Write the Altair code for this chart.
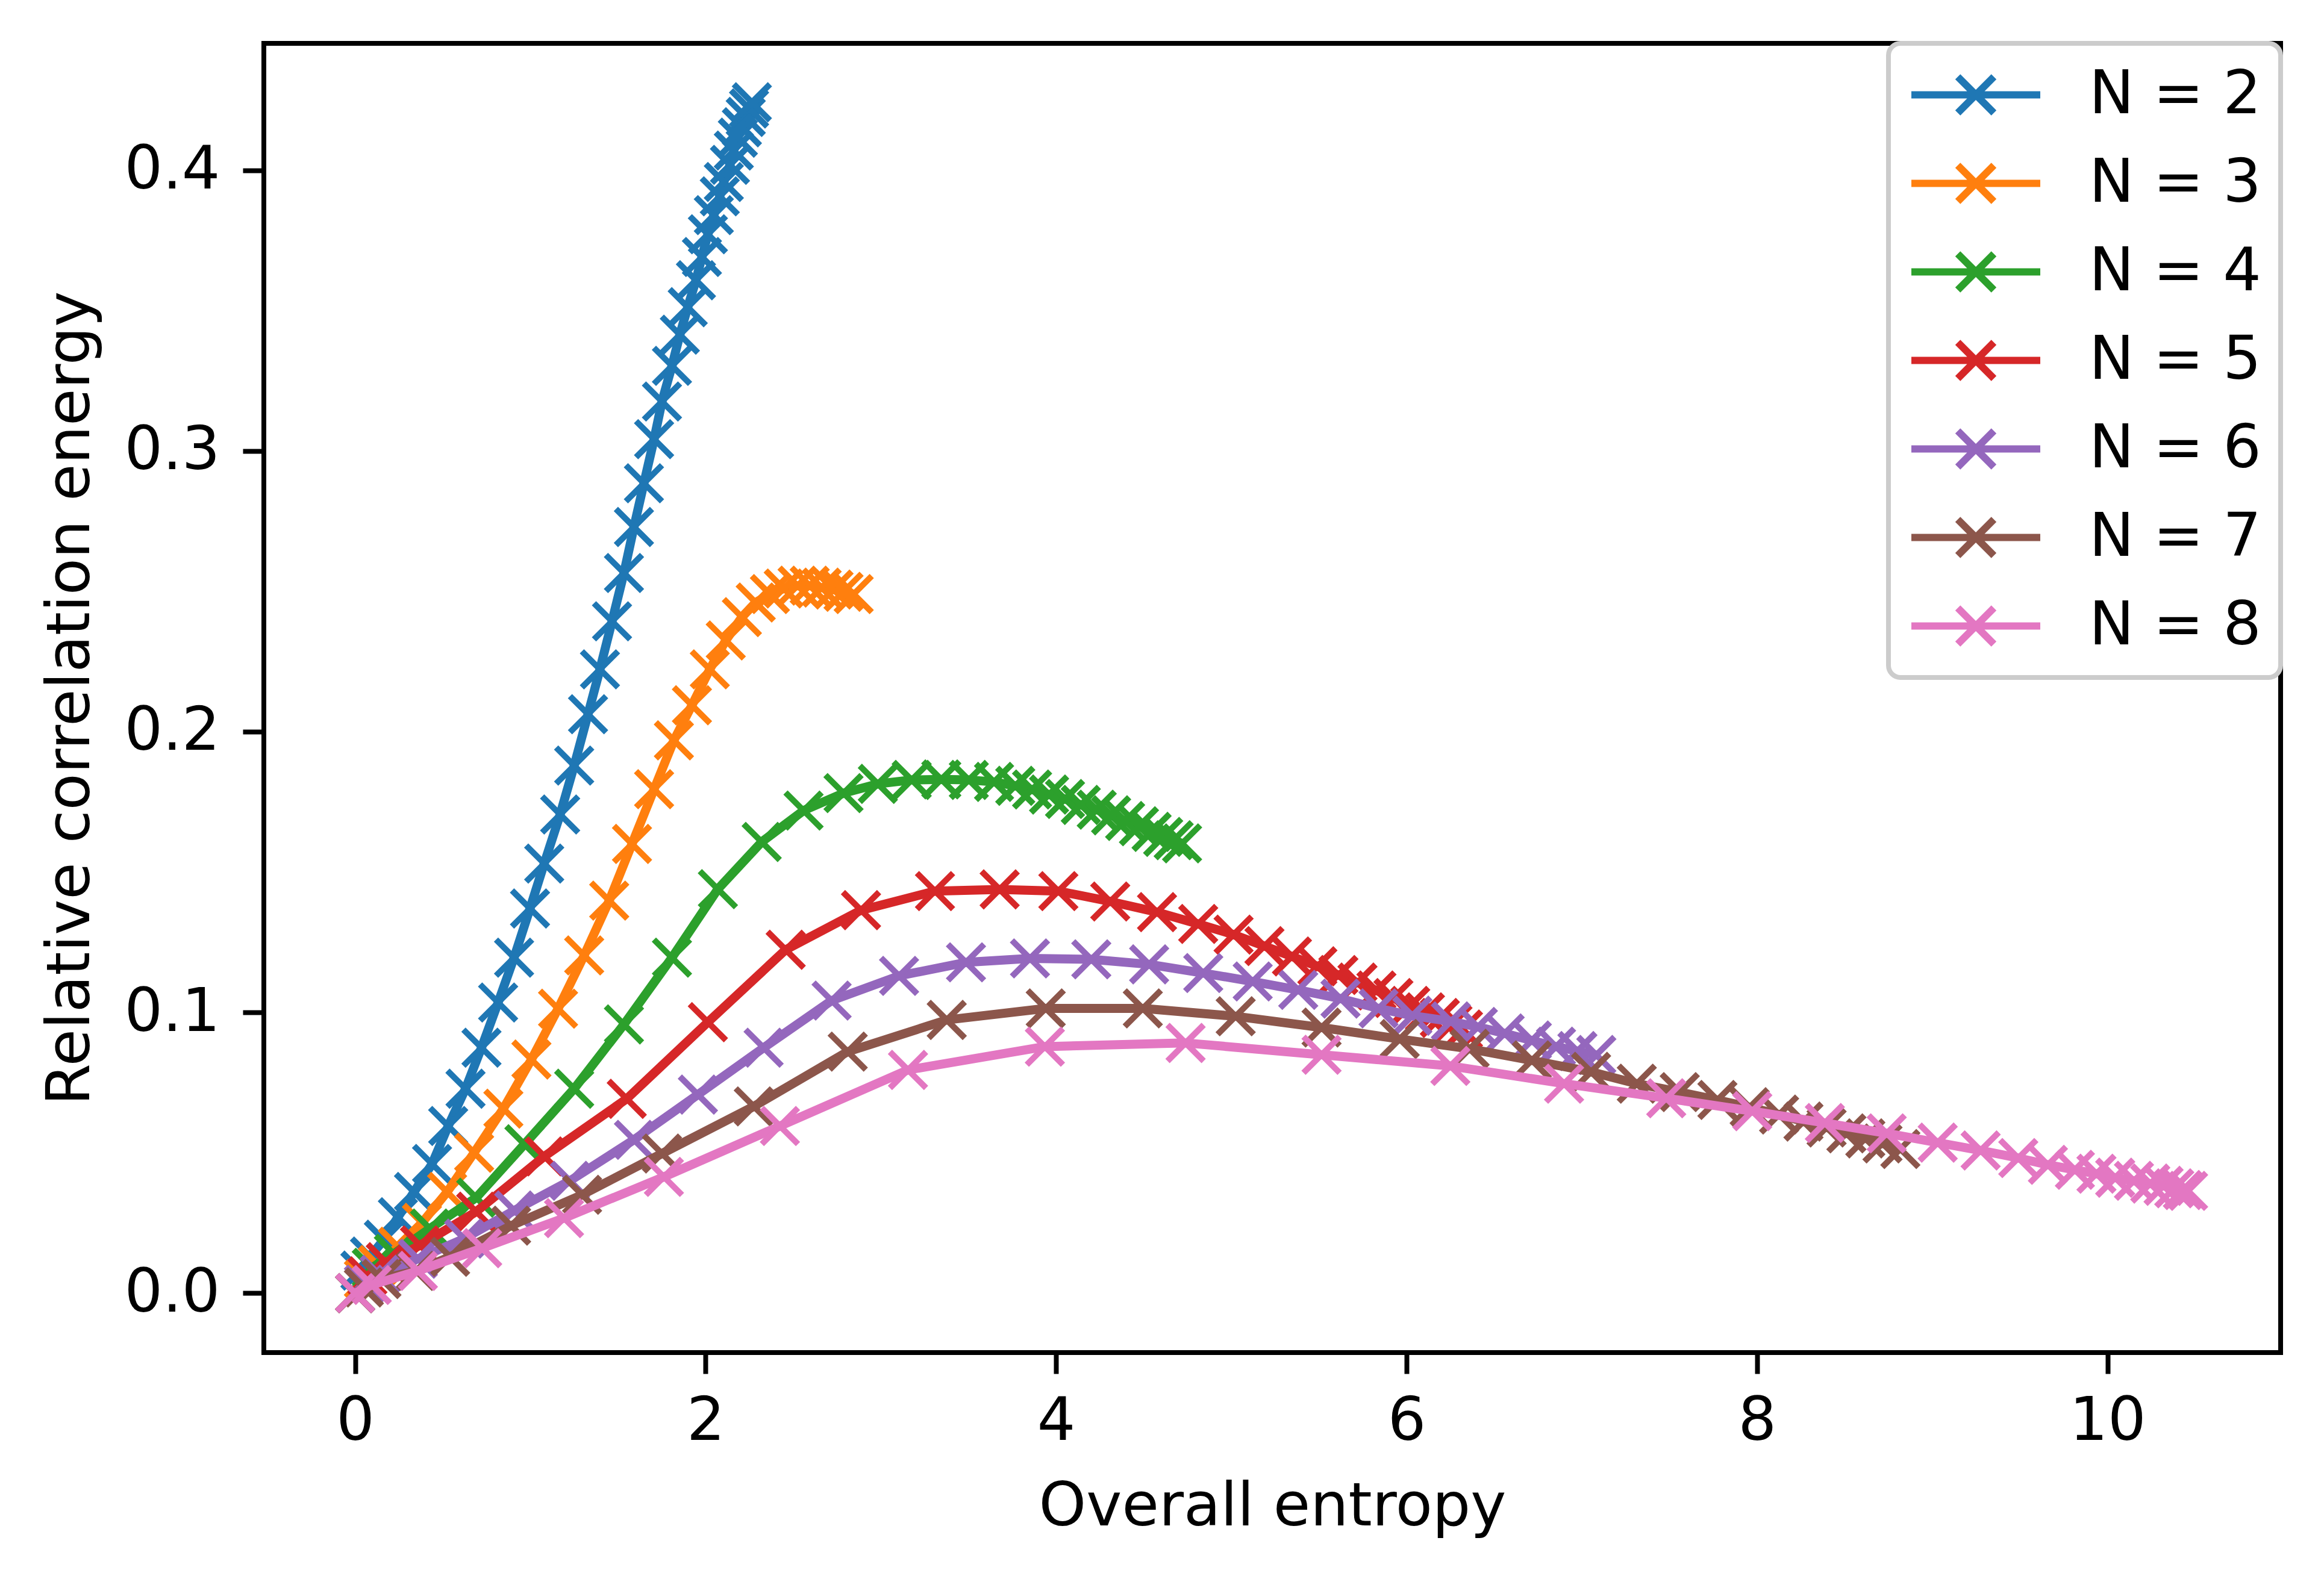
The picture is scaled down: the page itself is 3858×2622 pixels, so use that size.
import altair as alt
import pandas as pd

labels = ["N = 2", "N = 3", "N = 4", "N = 5", "N = 6", "N = 7", "N = 8"]
colors = ["#1f77b4", "#ff7f0e", "#2ca02c", "#d62728", "#9467bd", "#8c564b", "#e377c2"]

n2_x = [0.0, 0.03, 0.085, 0.164, 0.244, 0.336, 0.439, 0.531, 0.630, 0.721, 0.816, 0.907, 0.998, 1.079,
        1.170, 1.250, 1.329, 1.397, 1.466, 1.534, 1.591, 1.648, 1.706, 1.751, 1.808, 1.853, 1.898, 1.945,
        1.979, 2.013, 2.047, 2.081, 2.104, 2.139, 2.161, 2.184, 2.207, 2.229, 2.248, 2.264]
n2_y = [0.0, 0.008, 0.013, 0.019, 0.027, 0.036, 0.046, 0.0595, 0.0728, 0.0874, 0.1035, 0.1195, 0.1370, 0.1530,
        0.1705, 0.1879, 0.2062, 0.2222, 0.2393, 0.2565, 0.2729, 0.2885, 0.3042, 0.3176, 0.3303, 0.3414, 0.3512, 0.3608,
        0.3691, 0.3772, 0.3840, 0.3907, 0.3958, 0.4019, 0.4070, 0.4116, 0.4153, 0.4190, 0.4220, 0.4242]

n3_x = [0.0, 0.05, 0.13, 0.244, 0.381, 0.525, 0.679, 0.846, 1.006, 1.158, 1.307, 1.450, 1.580, 1.706,
        1.819, 1.922, 2.024, 2.115, 2.207, 2.286, 2.367, 2.446, 2.525, 2.594, 2.662, 2.730, 2.787, 2.845]
n3_y = [0.0, 0.005, 0.010, 0.0165, 0.025, 0.036, 0.050, 0.0657, 0.0832, 0.1013, 0.1203, 0.1398, 0.1600, 0.1795,
        0.1969, 0.2094, 0.2222, 0.2325, 0.2408, 0.2460, 0.2490, 0.2510, 0.2520, 0.2520, 0.2513, 0.2506, 0.2498, 0.2490]

n4_x = [0.0, 0.095, 0.221, 0.427, 0.691, 0.966, 1.250, 1.534, 1.808, 2.070, 2.320, 2.559, 2.787, 2.983,
        3.176, 3.345, 3.502, 3.646, 3.767, 3.863, 3.960, 4.051, 4.141, 4.232, 4.314, 4.394, 4.473, 4.545,
        4.611, 4.671, 4.719]
n4_y = [0.0, 0.009, 0.014, 0.023, 0.034, 0.053, 0.0728, 0.0957, 0.1195, 0.1439, 0.1607, 0.1719, 0.1781, 0.1814,
        0.1828, 0.1830, 0.1828, 0.1821, 0.1807, 0.1794, 0.1776, 0.1760, 0.1739, 0.1722, 0.1702, 0.1682, 0.1663, 0.1643,
        0.1625, 0.1613, 0.1602]

n5_x = [0.0, 0.07, 0.175, 0.37, 0.691, 1.080, 1.550, 2.013, 2.457, 2.887, 3.309, 3.678, 4.013, 4.309,
        4.576, 4.811, 5.013, 5.189, 5.346, 5.491, 5.611, 5.720, 5.828, 5.925, 6.021, 6.105, 6.190, 6.262, 6.322]
n5_y = [0.0, 0.006, 0.011, 0.017, 0.029, 0.0487, 0.0692, 0.0965, 0.1223, 0.1364, 0.1432, 0.1438, 0.1432, 0.1395,
        0.1357, 0.1315, 0.1277, 0.1236, 0.1199, 0.1164, 0.1133, 0.1106, 0.1078, 0.1051, 0.1023, 0.1000, 0.0980, 0.0959, 0.0939]

n6_x = [0.0, 0.05, 0.14, 0.358, 0.622, 0.908, 1.226, 1.591, 1.956, 2.331, 2.719, 3.104, 3.486, 3.851,
        4.201, 4.531, 4.840, 5.122, 5.382, 5.623, 5.840, 6.033, 6.253, 6.407, 6.560, 6.715, 6.853, 6.975, 7.083]
n6_y = [0.0, 0.003, 0.0065, 0.0122, 0.0194, 0.0294, 0.0400, 0.0546, 0.0707, 0.0874, 0.1042, 0.1130, 0.1178, 0.1192,
        0.1189, 0.1171, 0.1140, 0.1110, 0.1080, 0.1049, 0.1014, 0.0988, 0.0968, 0.0948, 0.0925, 0.0900, 0.0878, 0.0862, 0.0848]

n7_x = [0.0, 0.05, 0.15, 0.347, 0.542, 0.89, 1.295, 1.751, 2.275, 2.811, 3.376, 3.941, 4.495, 5.025,
        5.515, 5.961, 6.36, 6.715, 7.053, 7.314, 7.559, 7.774, 7.958, 8.126, 8.265, 8.397, 8.510, 8.618, 8.716, 8.818]
n7_y = [0.0, 0.002, 0.005, 0.0079, 0.0129, 0.024, 0.0350, 0.0497, 0.0665, 0.0860, 0.0973, 0.1014, 0.1014, 0.0986,
        0.0946, 0.0905, 0.0870, 0.0829, 0.0788, 0.0746, 0.0716, 0.0688, 0.0662, 0.0636, 0.0611, 0.0590, 0.0569, 0.0551, 0.0533, 0.0513]

n8_x = [0.0, 0.095, 0.358, 0.725, 1.192, 1.762, 2.424, 3.155, 3.936, 4.739, 5.515, 6.250, 6.899, 7.482,
        7.973, 8.387, 8.740, 9.031, 9.276, 9.491, 9.660, 9.814, 9.937, 10.044, 10.151, 10.244, 10.320, 10.381, 10.43, 10.46]
n8_y = [0.0, 0.0029, 0.0079, 0.016, 0.0267, 0.0414, 0.0595, 0.0795, 0.0878, 0.0891, 0.0849, 0.0809, 0.0746, 0.0694,
        0.0648, 0.0606, 0.0569, 0.0536, 0.0508, 0.0481, 0.0457, 0.0439, 0.0425, 0.0411, 0.0400, 0.0390, 0.0382, 0.0373, 0.0367, 0.0364]

x_ticks = [0, 2, 4, 6, 8, 10]
y_ticks = [0.0, 0.1, 0.2, 0.3, 0.4]

series = [(labels[0], n2_x, n2_y), (labels[1], n3_x, n3_y), (labels[2], n4_x, n4_y),
          (labels[3], n5_x, n5_y), (labels[4], n6_x, n6_y), (labels[5], n7_x, n7_y),
          (labels[6], n8_x, n8_y)]
rows = []
for lab, xs_, ys_ in series:
    for i, (xv, yv) in enumerate(zip(xs_, ys_)):
        rows.append({"series": lab, "x": xv, "y": yv, "idx": i})
df = pd.DataFrame(rows)

X_PATH = "M-1,-1L1,1M-1,1L1,-1"
LEG_PATH = "M-1,0L1,0M-0.28,-0.28L0.28,0.28M-0.28,0.28L0.28,-0.28"
FONT = "DejaVu Sans"

x_enc = alt.X("x:Q", scale=alt.Scale(domain=[-0.521, 10.988], nice=False, zero=False),
              axis=alt.Axis(values=x_ticks, format="d", title="Overall entropy",
                            labelPadding=30, titlePadding=43))
y_enc = alt.Y("y:Q", scale=alt.Scale(domain=[-0.0212, 0.4452], nice=False, zero=False),
              axis=alt.Axis(values=y_ticks, format=".1f", title="Relative correlation energy",
                            labelPadding=38, titlePadding=70))
c_enc = alt.Color("series:N", scale=alt.Scale(domain=labels, range=colors),
                  legend=alt.Legend(title=None, orient="top-right", offset=0,
                                    symbolType=LEG_PATH, symbolSize=214 * 214,
                                    symbolStrokeWidth=12, labelFontSize=100, labelFont=FONT,
                                    labelColor="black", labelLimit=2000, labelOffset=75,
                                    clipHeight=107, rowPadding=40, padding=32,
                                    fillColor="white", strokeColor="#cccccc", cornerRadius=20))

layers = []
for lab in labels:
    base = alt.Chart().transform_filter(alt.datum.series == lab)
    layers.append(base.mark_line(strokeWidth=15, strokeJoin="round").encode(
        x=x_enc, y=y_enc, color=c_enc, order="idx:Q"))
    layers.append(base.mark_point(shape=X_PATH, size=3600, filled=False, strokeWidth=10, opacity=1).encode(
        x=x_enc, y=y_enc, color=c_enc))

chart = alt.layer(*layers, data=df).properties(
    width=3348, height=2174,
    autosize=alt.AutoSizeParams(type="none"),
    padding={"left": 430, "top": 64, "right": 64, "bottom": 368},
).configure_view(
    stroke="black", strokeWidth=8
).configure_axis(
    domain=False, grid=False, tickColor="black", tickWidth=8, tickSize=35,
    labelFontSize=100, labelFont=FONT, labelColor="black",
    titleFontSize=100, titleFont=FONT, titleFontWeight="normal", titleColor="black"
).configure_legend(
    strokeWidth=8
)

chart.save("out.html", embed_options={"renderer": "svg", "actions": False})
